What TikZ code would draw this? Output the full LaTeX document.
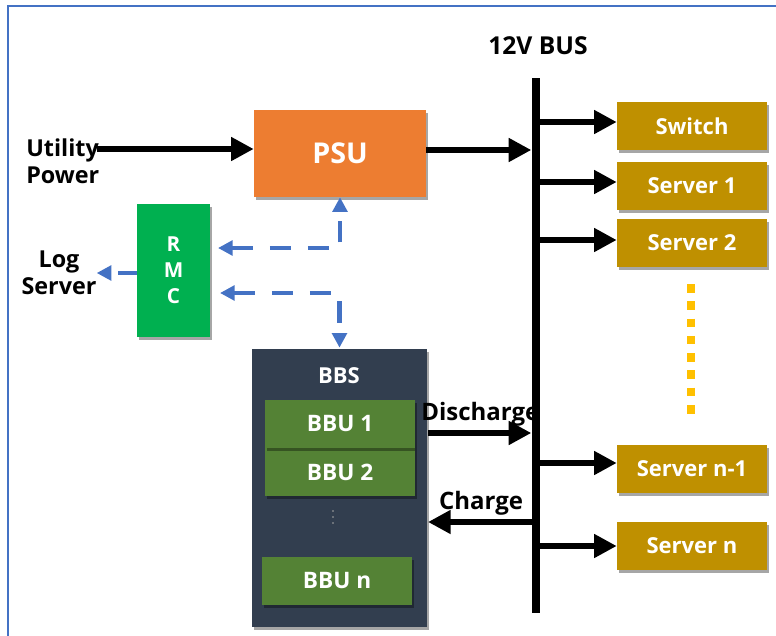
\documentclass[tikz,border=0pt]{standalone}
\usepackage{fontspec}
\setmainfont{Open Sans}
\usetikzlibrary{arrows.meta,shadows,calc}
\definecolor{psuorange}{HTML}{ED7D31}
\definecolor{rmcgreen}{HTML}{00B050}
\definecolor{bbsnavy}{HTML}{323E4F}
\definecolor{bbugreen}{HTML}{548235}
\definecolor{loadgold}{HTML}{BF9000}
\definecolor{linkblue}{HTML}{4472C4}
\definecolor{dotyellow}{HTML}{FFC000}
\tikzset{
  boxshadow/.style={drop shadow={shadow xshift=1.5pt,shadow yshift=-2.2pt,opacity=0.35,fill=black}},
  block/.style={rectangle,inner sep=0pt,text=white,font=\bfseries\fontsize{16.5}{19}\selectfont,boxshadow},
  loadbox/.style={block,fill=loadgold,minimum width=112.5pt,minimum height=36pt},
  bbubox/.style={block,fill=bbugreen,minimum width=112.5pt,minimum height=36pt,
    font=\bfseries\fontsize{17}{20}\selectfont},
  label/.style={inner sep=0pt,font=\bfseries\fontsize{17.5}{20.5}\selectfont,text=black},
  power/.style={line width=4.4pt,-{Triangle[length=17pt,width=17pt]}},
  busfeed/.style={line width=4.6pt,-{Triangle[length=17pt,width=17pt]}},
  signal/.style={draw=linkblue,line width=3.2pt,dash pattern=on 16pt off 12.5pt,
    {Triangle[length=11pt,width=11pt,fill=linkblue]}-{Triangle[length=11pt,width=11pt,fill=linkblue]}},
  signalone/.style={draw=linkblue,line width=3.2pt,dash pattern=on 14pt off 30pt,
    -{Triangle[length=11pt,width=11pt,fill=linkblue]}},
}
\begin{document}
\begin{tikzpicture}[x=0.75pt,y=-0.75pt]
\useasboundingbox (0,0) rectangle (776,636);
% outer frame (left and top edges)
\draw[linkblue,line width=1.6pt] (8,636) -- (8,6) -- (776,6);

% 12 V bus
\node[label,font=\bfseries\fontsize{18.5}{22}\selectfont] (bustitle) at (538,46) {12V BUS};
\coordinate (bustop) at (536,78);
\coordinate (busbot) at (536,613);
\draw[line width=6pt] (bustop) -- (busbot);

% PSU and utility input
\node[block,fill=psuorange,minimum width=129pt,minimum height=65.25pt,
      font=\bfseries\fontsize{21.5}{25}\selectfont] (psu) at (340,153.5) {PSU};
\node[label,align=left,anchor=west] (utility) at (26,161) {Utility\\Power};
\coordinate (upin) at (97,149);
\draw[power] (upin) -- (upin -| psu.west);
\draw[power,shorten >=3.5pt] (psu.east |- 0,150) coordinate (psuout) -- (psuout -| bustop);

% RMC and log server
\node[block,fill=rmcgreen,minimum width=54.75pt,minimum height=99.75pt,align=center,
      font=\bfseries\fontsize{15.5}{19.5}\selectfont] (rmc) at (173.5,270.5) {R\\M\\C};
\node[label,align=center] (log) at (59,273) {Log\\Server};
\draw[signalone] (rmc.west |- 0,273) -- (log.east |- 0,273);

% management links from RMC to PSU and BBS
\coordinate (rp) at (218,248);
\coordinate (rb) at (220,293);
\draw[signal] (rp) -| (psu.south);
\draw[signal,shorten >=1pt] (rb) -| (339.5,349);

% battery backup system
\node[block,fill=bbsnavy,minimum width=131.25pt,minimum height=208.5pt] (bbs) at (339.5,488) {};
\node[label,text=white,font=\bfseries\fontsize{16.5}{19}\selectfont] (bbstitle) at (339,376) {BBS};
\node[bbubox] (bbu2) at (340,472) {BBU 2};
\node[bbubox] (bbu1) at (340,424) {BBU 1};
\node[bbubox] (bbun) at (337,581) {BBU n};
\foreach \yy in {511,517,523} \fill[gray!70] (333,\yy) circle (0.6pt);

% charge / discharge paths
\coordinate (dis) at (428,433);
\coordinate (chg) at (428,522);
\draw[power,shorten >=3.5pt] (dis) -- (dis -| bustop);
\draw[power] (chg -| bustop) -- (chg);
\node[label,anchor=west,font=\bfseries\fontsize{18}{21}\selectfont] (dislabel) at (421,414) {Discharge};
\node[label,font=\bfseries\fontsize{18}{21}\selectfont] (chglabel) at (481,503) {Charge};

% loads on the bus
\node[loadbox] (sw) at (692,126) {Switch};
\node[loadbox] (s1) at (692,186) {Server 1};
\node[loadbox] (s2) at (692,243) {Server 2};
\node[loadbox] (snm) at (692,469) {Server n-1};
\node[loadbox] (sn) at (692,546) {Server n};
\foreach \b/\dy in {sw/-4,s1/-4,s2/-3,snm/-6,sn/0}
  \draw[busfeed] ($(\b.west -| bustop)+(0,\dy)$) -- ($(\b.west)+(0,\dy)$);

% ellipsis between server 2 and server n-1
\draw[dotyellow,line width=5.8pt,dash pattern=on 6.5pt off 6.45pt] (691,284) -- (691,414);
\end{tikzpicture}
\end{document}
